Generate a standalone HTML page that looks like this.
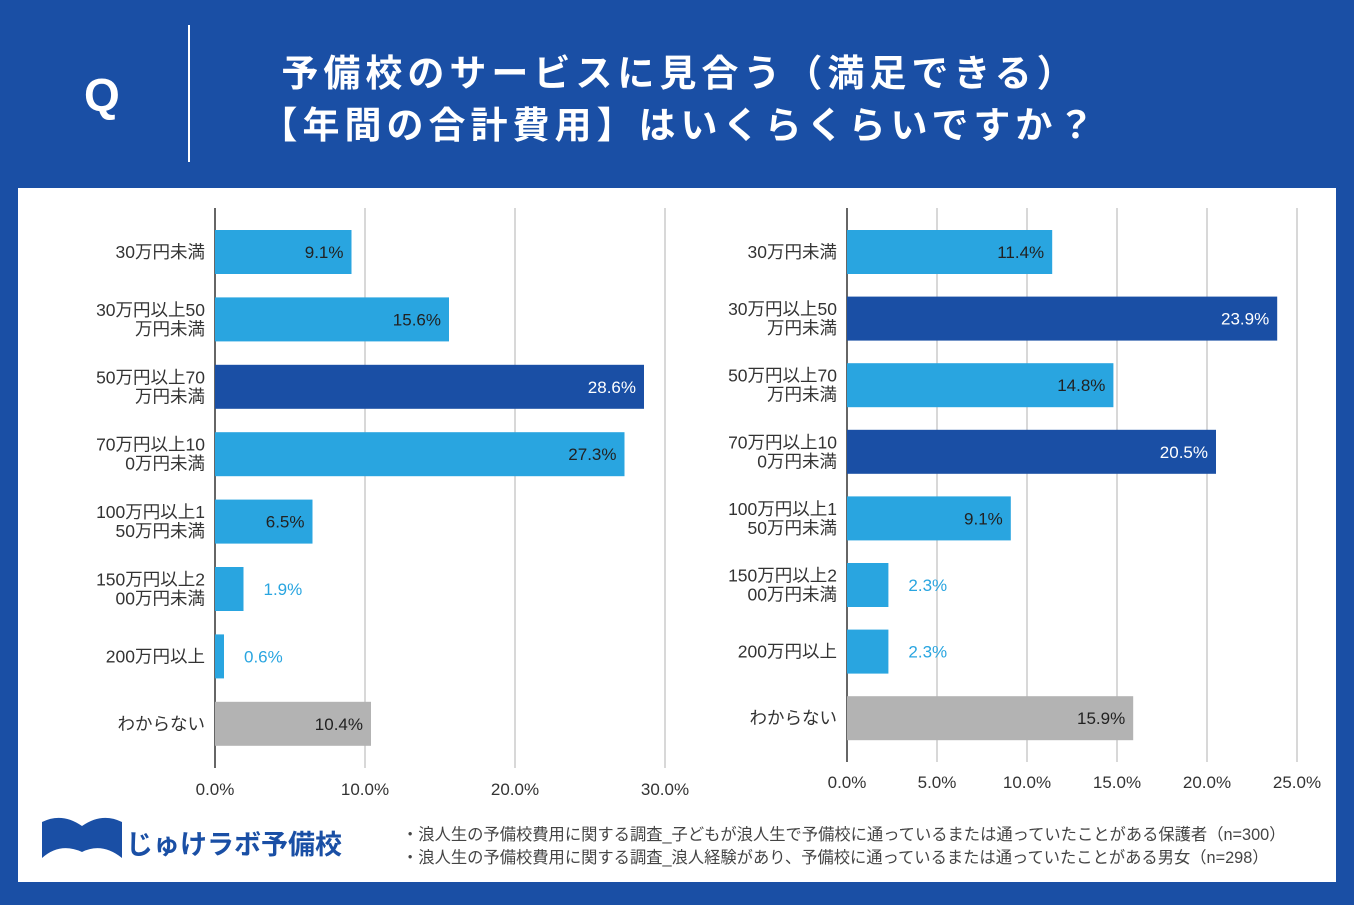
<!DOCTYPE html>
<html><head><meta charset="utf-8">
<style>
body{margin:0;width:1354px;height:905px;background:#1a4fa5;font-family:"Liberation Sans","Noto Sans CJK JP",sans-serif;overflow:hidden;position:relative}
#q{position:absolute;left:84px;top:68px;color:#fff;font-size:46px;font-weight:bold}
#div{position:absolute;left:188px;top:25px;width:2px;height:137px;background:#fff}
#title{position:absolute;left:180px;width:1000px;top:44px;text-align:center;color:#fff;font-size:37px;letter-spacing:5px;font-weight:bold;line-height:52px;font-family:"Noto Sans CJK JP",sans-serif}
#panel{position:absolute;left:18px;top:188px;width:1318px;height:694px;background:#fff}
svg{position:absolute;left:0;top:0}
</style></head><body>
<div id="q">Q</div>
<div id="div"></div>
<div id="title">予備校のサービスに見合う（満足できる）<br>【年間の合計費用】はいくらくらいですか？</div>
<div id="panel"></div>
<svg id="chart" width="1354" height="905"></svg>
<script>
const categories=["30万円未満","30万円以上50|万円未満","50万円以上70|万円未満","70万円以上10|0万円未満","100万円以上1|50万円未満","150万円以上2|00万円未満","200万円以上","わからない"];
const leftValues=[9.1,15.6,28.6,27.3,6.5,1.9,0.6,10.4];
const rightValues=[11.4,23.9,14.8,20.5,9.1,2.3,2.3,15.9];
const leftTicks=[0,10,20,30];
const rightTicks=[0,5,10,15,20,25];
const leftHighlight=[2];
const rightHighlight=[1,3];
const NS="http://www.w3.org/2000/svg";
const svg=document.getElementById('chart');
function el(t,a,txt){const e=document.createElementNS(NS,t);for(const k in a)e.setAttribute(k,a[k]);if(txt!==undefined)e.textContent=txt;svg.appendChild(e);return e;}
function draw(cfg){
 const x=v=>cfg.x0+v*cfg.px;
 const y=i=>cfg.yTop+i*cfg.step;
 cfg.ticks.forEach(t=>{
  if(t>0){const g=el('line',{x1:x(t),x2:x(t),y1:cfg.axTop,y2:cfg.axBot,stroke:'#cccccc','stroke-width':1.5});
  }
  const tl=el('text',{x:x(t),y:cfg.tickY,'text-anchor':'middle','font-size':17,fill:'#333'},t.toFixed(1)+'%');
  
 });
 const ax=el('line',{x1:cfg.x0,x2:cfg.x0,y1:cfg.axTop,y2:cfg.axBot,stroke:'#333','stroke-width':1.5});
 
 cfg.values.forEach((v,i)=>{
  const cy=y(i);
  const last=i===cfg.values.length-1;
  const dark=cfg.hi.includes(i);
  const col=last?'#b3b3b3':dark?'#1a4fa5':'#29a5e0';
  const r=el('rect',{x:cfg.x0,y:cy-22,width:x(v)-cfg.x0,height:44,fill:col});
  
  const inside=(x(v)-cfg.x0)>60;
  const vl=el('text',{x:inside?x(v)-8:x(v)+20,y:cy+6,'text-anchor':inside?'end':'start','font-size':17,fill:inside?(dark?'#fff':'#222'):'#29a5e0'},v.toFixed(1)+'%');
  
  const lines=categories[i].split('|');
  lines.forEach((ln,k)=>{
   const cl=el('text',{x:cfg.x0-10,y:cy+6+(k-(lines.length-1)/2)*19,'text-anchor':'end','font-size':17.5,fill:'#333'},ln);
   
  });
 });
}
draw({x0:215,px:15,yTop:252,step:67.4,values:leftValues,ticks:leftTicks,hi:leftHighlight,axTop:208,axBot:768,tickY:795});
draw({x0:847,px:18,yTop:252,step:66.6,values:rightValues,ticks:rightTicks,hi:rightHighlight,axTop:208,axBot:762,tickY:788});
const n1=el('text',{x:402,y:840,'font-size':16.3,fill:'#444'},'・浪人生の予備校費用に関する調査_子どもが浪人生で予備校に通っているまたは通っていたことがある保護者（n=300）');

const n2=el('text',{x:402,y:863,'font-size':16.3,fill:'#444'},'・浪人生の予備校費用に関する調査_浪人経験があり、予備校に通っているまたは通っていたことがある男女（n=298）');

const ic=el('path',{d:'M42 858 Q60 842 82 852 Q102 842 122 858 L122 822 Q102 812 82 826 Q62 812 42 822 Z',fill:'#1a4fa5'});

const lg=el('text',{x:126,y:854,'font-size':27,'font-weight':'bold',fill:'#1a4fa5'},'じゅけラボ予備校');

</script>
</body></html>
